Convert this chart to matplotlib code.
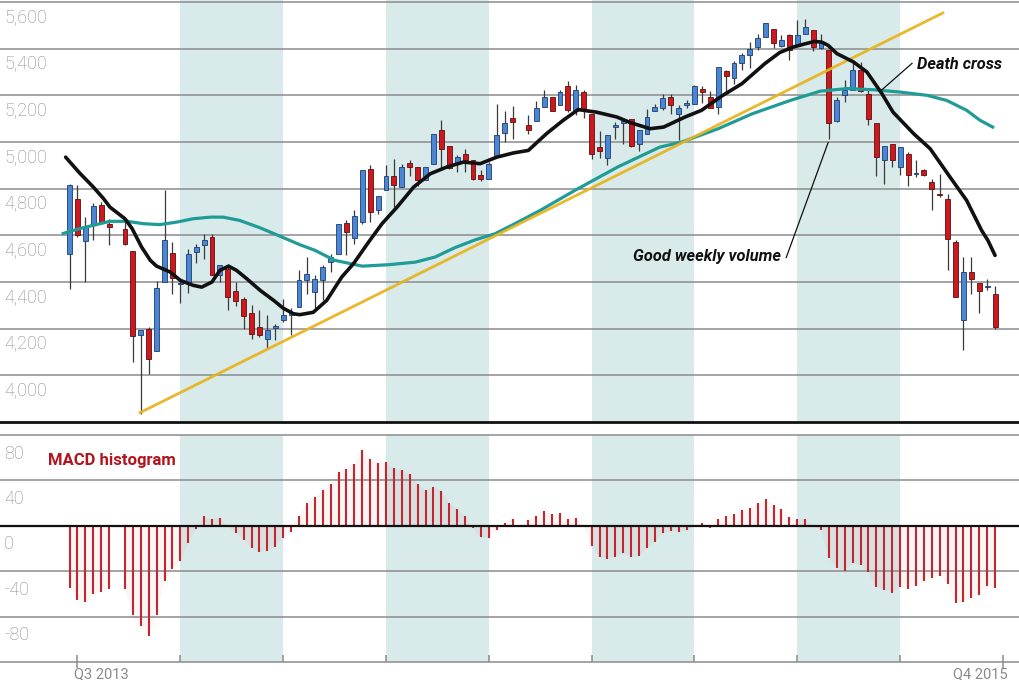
import numpy as np
import matplotlib.pyplot as plt
from matplotlib.transforms import offset_copy

plt.rcParams['font.family'] = ['Roboto', 'DejaVu Sans']

nan = np.nan

# Weekly candles, week 0 = start of Q3 2013 (13 weeks per quarter)
weeks = np.arange(-1, 117)

opens = np.array([
    4521, 4757, 4576, 4646, 4731, 4650, nan, 4628, 4531, 4174,   # -1..8
    4197, 4103, 4400, 4524, 4390, 4400, 4528, 4557, 4593, 4431,   # 9..18
    4457, 4360, 4328, 4268, 4207, 4157, 4203, 4238, 4260, 4293,   # 19..28
    4407, 4357, 4407, 4485, 4521, 4653, 4590, 4657, 4885, 4710,   # 29..38
    4795, 4854, 4807, 4910, 4895, 4838, 4904, 5053, 4985, 4907,   # 39..48
    4947, 4924, 4857, 4843, 4935, 5040, 5104, nan, 5071, 5090,    # 49..58
    5150, 5195, 5157, 5238, 5135, 5214, 5118, 4978, 4933, 5066,   # 59..68
    5083, 5100, 4993, 5033, 5133, 5147, 5195, 5121, 5160, 5164,   # 69..78
    5227, 5195, 5150, 5303, 5275, 5340, 5374, 5407, 5450, 5483,   # 79..88
    5411, 5457, 5410, 5464, 5478, 5404, 5395, 5090, 5200, 5221,   # 89..98
    5307, 5207, 5081, 4924, 4993, 4893, 4947, 4862, 4881, 4828,   # 99..108
    4778, 4757, 4571, 4238, 4443, 4395, 4378, 4347])              # 109..116

highs = np.array([
    4818, 4814, 4678, 4738, 4743, 4671, nan, 4664, 4531, 4193,
    4207, 4403, 4793, 4571, 4414, 4543, 4564, 4607, 4607, 4474,
    4478, 4400, 4336, 4300, 4281, 4257, 4221, 4326, 4290, 4453,
    4507, 4428, 4474, 4521, 4650, 4664, 4707, 4880, 4900, 4767,
    4903, 4928, 4907, 4921, 4895, 4895, 5033, 5093, 4985, 4943,
    4971, 4924, 4878, 4914, 5161, 5133, 5153, nan, 5114, 5175,
    5221, 5195, 5224, 5261, 5243, 5221, 5118, 5047, 5028, 5085,
    5093, 5100, 5050, 5143, 5164, 5204, 5207, 5157, 5178, 5243,
    5238, 5218, 5321, 5307, 5347, 5381, 5428, 5461, 5511, 5483,
    5457, 5461, 5521, 5528, 5481, 5461, 5395, 5193, 5264, 5338,
    5343, 5221, 5081, 4985, 4993, 4978, 4957, 4924, 4885, 4843,
    4864, 4778, 4578, 4507, 4507, 4395, 4414, 4385])

lows = np.array([
    4371, 4593, 4400, 4581, 4650, 4557, nan, 4560, 4057, 3836,
    4007, 4103, 4400, 4350, 4310, 4354, 4483, 4500, 4431, 4400,
    4278, 4297, 4200, 4157, 4164, 4114, 4150, 4228, 4171, 4293,
    4350, 4287, 4321, 4443, 4521, 4514, 4564, 4650, 4657, 4693,
    4795, 4721, 4807, 4853, 4810, 4838, 4904, 4878, 4885, 4871,
    4871, 4838, 4833, 4843, 4935, 5000, 5014, nan, 5036, 5090,
    5150, 5135, 5157, 5128, 5114, 5104, 4928, 4933, 4900, 5014,
    4993, 4978, 4961, 5033, 5133, 5136, 5118, 5007, 5147, 5164,
    5167, 5147, 5118, 5207, 5247, 5307, 5318, 5393, 5450, 5404,
    5407, 5350, 5410, 5464, 5390, 5400, 5014, 5086, 5171, 5221,
    5214, 5071, 4853, 4821, 4893, 4857, 4810, 4850, 4853, 4707,
    4764, 4450, 4335, 4107, 4350, 4267, 4364, 4200])

closes = np.array([
    4817, 4603, 4636, 4724, 4657, 4636, nan, 4564, 4167, 4193,
    4071, 4374, 4581, 4417, 4396, 4518, 4550, 4578, 4431, 4474,
    4336, 4317, 4254, 4176, 4174, 4193, 4211, 4257, 4264, 4407,
    4435, 4414, 4464, 4507, 4647, 4614, 4685, 4878, 4700, 4767,
    4854, 4814, 4895, 4893, 4838, 4895, 5033, 4968, 4890, 4935,
    4921, 4843, 4843, 4907, 5031, 5083, 5086, nan, 5050, 5147,
    5195, 5135, 5214, 5138, 5225, 5138, 4947, 4961, 5028, 5070,
    5087, 4981, 5050, 5107, 5150, 5190, 5157, 5145, 5167, 5238,
    5214, 5147, 5321, 5285, 5338, 5374, 5400, 5447, 5511, 5424,
    5438, 5395, 5457, 5493, 5407, 5428, 5081, 5181, 5224, 5310,
    5217, 5100, 4935, 4985, 4921, 4978, 4857, 4866, 4857, 4800,
    4771, 4585, 4335, 4443, 4414, 4361, 4384, 4207])

macd = np.array([
    -54.6, -65.1, -67.2, -60.4, -58.4, -55.5, nan, -56.1, -78.8, -88.2,
    -96.9, -78.2, -48.8, -38.5, -30.7, -15.5, -2.9, 8.2, 5.8, 7.3,
    -0.5, -6.4, -12.3, -19.9, -23.4, -21.9, -18.4, -11.1, -5.8, 8.8,
    19.9, 25.7, 31.5, 36.5, 47.6, 50.2, 54.3, 66.6, 59.0, 55.5,
    56.1, 50.5, 49.1, 45.3, 36.5, 31.2, 34.5, 30.7, 19.9, 14.6,
    8.2, -2.0, -10.2, -10.8, -3.8, 2.9, 6.4, nan, 5.0, 8.8,
    13.1, 10.2, 11.1, 6.4, 7.0, -0.5, -18.1, -27.7, -29.2, -27.2,
    -23.9, -27.7, -26.3, -19.9, -14.0, -6.7, -5.0, -5.3, -3.8, 0.9,
    2.3, -2.3, 5.8, 8.2, 10.8, 14.0, 16.1, 19.9, 23.4, 18.4,
    14.6, 7.9, 5.8, 5.8, -0.6, -3.5, -28.6, -37.4, -39.4, -33.0,
    -34.5, -40.9, -54.0, -56.4, -59.0, -54.0, -55.5, -52.6, -48.8, -46.1,
    -43.8, -51.1, -67.7, -67.2, -63.6, -60.7, -52.6, -54.6])

# short moving average (black)
fast_w = [-1.5, 0.3, 2.0, 3.3, 4.1, 6.0, 6.9, 8.1, 9.2, 10.0, 11.7, 13.0, 14.6, 15.7,
          17.0, 18.0, 19.1, 20.1, 21.4, 23.1, 24.8, 26.0, 27.3, 28.1, 29.8, 31.5, 33.4,
          34.9, 36.8, 38.5, 40.4, 42.5, 44.6, 46.7, 48.8, 50.9, 53.0, 55.1, 57.0, 59.3,
          61.4, 63.3, 65.6, 68.2, 69.9, 72.4, 74.1, 76.8, 78.9, 81.4, 84.0, 86.9, 88.8,
          90.5, 92.0, 93.2, 94.1, 94.9, 96.0, 98.1, 99.8, 101.7, 103.1, 105.7, 107.8,
          110.3, 112.4, 114.3, 115.1, 116.0]
fast_v = [4935, 4866, 4807, 4757, 4721, 4671, 4629, 4550, 4493, 4468, 4443, 4407, 4386, 4378,
          4400, 4450, 4468, 4450, 4414, 4364, 4321, 4288, 4264, 4260, 4270, 4321, 4421,
          4479, 4571, 4650, 4721, 4807, 4864, 4893, 4914, 4907, 4935, 4953, 4964, 5036,
          5093, 5139, 5128, 5107, 5083, 5057, 5064, 5107, 5136, 5196, 5250, 5336, 5384,
          5407, 5421, 5431, 5428, 5414, 5379, 5343, 5300, 5207, 5128, 5036, 4971,
          4850, 4750, 4621, 4578, 4514]

# long moving average (teal)
slow_w = [-1.8, 0.3, 2.0, 4.1, 6.3, 8.3, 10.4, 12.6, 14.6, 16.8, 18.4, 20.5, 23.1, 25.2,
          28.1, 30.0, 32.5, 36.0, 39.3, 42.7, 45.2, 47.7, 50.3, 52.8, 55.3, 58.5, 62.9,
          68.3, 73.6, 76.4, 81.0, 85.3, 90.1, 93.9, 97.3, 100.6, 104.0, 107.4, 109.9,
          112.4, 114.1, 115.7]
slow_v = [4608, 4629, 4643, 4660, 4660, 4650, 4646, 4657, 4671, 4678, 4678, 4664, 4632, 4602,
          4560, 4536, 4493, 4468, 4474, 4485, 4507, 4547, 4581, 4607, 4650, 4707, 4793,
          4893, 4978, 5000, 5057, 5121, 5178, 5218, 5229, 5224, 5214, 5200, 5178,
          5136, 5093, 5064]

# support trend line (yellow)
trend_w = [7.9, 109.4]
trend_v = [3840, 5553]

price_ticks = [4000, 4200, 4400, 4600, 4800, 5000, 5200, 5400, 5600]
macd_ticks = [80, 40, 0, -40, -80]
quarter_ticks = np.arange(0, 118, 13)
shaded = [(13, 26), (39, 52), (65, 78), (91, 104)]

BAND = '#d9eaea'
GRID = '#8c8c8c'
LABEL = '#8a8a8a'
BLUE = '#4a86d3'
RED = '#cf171e'
MACD_RED = '#c1272d'

W, H = 1020, 680
fig = plt.figure(figsize=(W / 100, H / 100), dpi=100)
ax = fig.add_axes([0, 1 - 422 / H, 1, 422 / H])
ax2 = fig.add_axes([0, 18 / H, 1, 227 / H])

xlim = (-77.5 / 7.91, (W - 77.5) / 7.91)
for a in (ax, ax2):
    a.set_axis_off()
    a.set_xlim(*xlim)
    for x0, x1 in shaded:
        a.axvspan(x0, x1, color=BAND, lw=0, zorder=0)

ax.set_ylim(3800, 5608.6)
ax2.set_ylim(-120, 80)

# price panel grid + labels
lab_tr = offset_copy(ax.get_yaxis_transform(), fig=fig, y=-14.4, units='points')
for v in price_ticks:
    ax.axhline(v, color=GRID, lw=1.1, zorder=1, clip_on=False)
    ax.text(4 / W, v, f'{v:,}', transform=lab_tr, ha='left', va='baseline',
            fontsize=13, color=LABEL, fontweight='light')
ax.axhline(3800, color='#111111', lw=2.0, zorder=7, clip_on=False)

# candles
ok = ~np.isnan(opens)
wk, o, h, l, c = weeks[ok], opens[ok], highs[ok], lows[ok], closes[ok]
up = c >= o
lo = np.minimum(o, c)
ht = np.maximum(np.abs(c - o), 6)
ax.vlines(wk, l, h, color='#3a3a3a', lw=0.9, zorder=3)
ax.bar(wk[up], ht[up], bottom=lo[up], width=0.62, color=BLUE,
       edgecolor='#1d3c6e', linewidth=0.6, zorder=4)
ax.bar(wk[~up], ht[~up], bottom=lo[~up], width=0.62, color=RED,
       edgecolor='#5a0f10', linewidth=0.6, zorder=4)

# averages and trend
ax.plot(slow_w, slow_v, color='#1f9c98', lw=2.3, zorder=5, solid_joinstyle='round')
ax.plot(trend_w, trend_v, color='#e8b420', lw=2.0, alpha=0.95, zorder=6)
ax.plot(fast_w, fast_v, color='#111111', lw=2.6, zorder=6, solid_joinstyle='round',
        solid_capstyle='round')

# annotations
ax.plot([89.6, 94.9], [4505, 4998], color='#111111', lw=0.9, zorder=7)
ax.text(88.9, 4488, 'Good weekly volume', ha='right', va='baseline', fontsize=11.8,
        fontweight='bold', style='italic', color='#111111', zorder=8)
ax.plot([105.5, 101.6], [5337, 5221], color='#111111', lw=0.9, zorder=7)
ax.text(106.1, 5314, 'Death cross', ha='left', va='baseline', fontsize=11.8,
        fontweight='bold', style='italic', color='#111111', zorder=8)

# MACD panel
lab_tr2 = offset_copy(ax2.get_yaxis_transform(), fig=fig, y=-17, units='points')
for v in macd_ticks + [-120]:
    ax2.axhline(v, color=GRID, lw=1.1, zorder=1, clip_on=False)
for v in macd_ticks:
    ax2.text(4 / W, v, f'{v}', transform=lab_tr2, ha='left', va='baseline',
             fontsize=13, color=LABEL, fontweight='light')
ax2.fill_between(weeks, 0, macd, color=MACD_RED, alpha=0.045, lw=0, zorder=2)
ax2.vlines(weeks, 0, macd, color=MACD_RED, lw=1.5, zorder=3)
ax2.axhline(0, color='#111111', lw=1.6, zorder=4)
ax2.text(48.3 / W, 53.6, 'MACD histogram', transform=ax2.get_yaxis_transform(),
         ha='left', va='baseline', fontsize=12, fontweight='bold', color='#b3141c')

# quarter ticks
xt = ax2.get_xaxis_transform()
ax2.vlines(quarter_ticks, 0, 7 / 227, transform=xt, color=GRID, lw=1.1, clip_on=False)
ax2.vlines([quarter_ticks[0], quarter_ticks[-1]], -6 / 227, 0, transform=xt,
           color=GRID, lw=1.1, clip_on=False)
fig.text(74 / W, 1 - 678.5 / H, 'Q3 2013', ha='left', va='baseline', fontsize=10.5, color=LABEL)
fig.text(1008 / W, 1 - 678.5 / H, 'Q4 2015', ha='right', va='baseline', fontsize=10.5, color=LABEL)

fig.savefig('out.png', dpi=100)
